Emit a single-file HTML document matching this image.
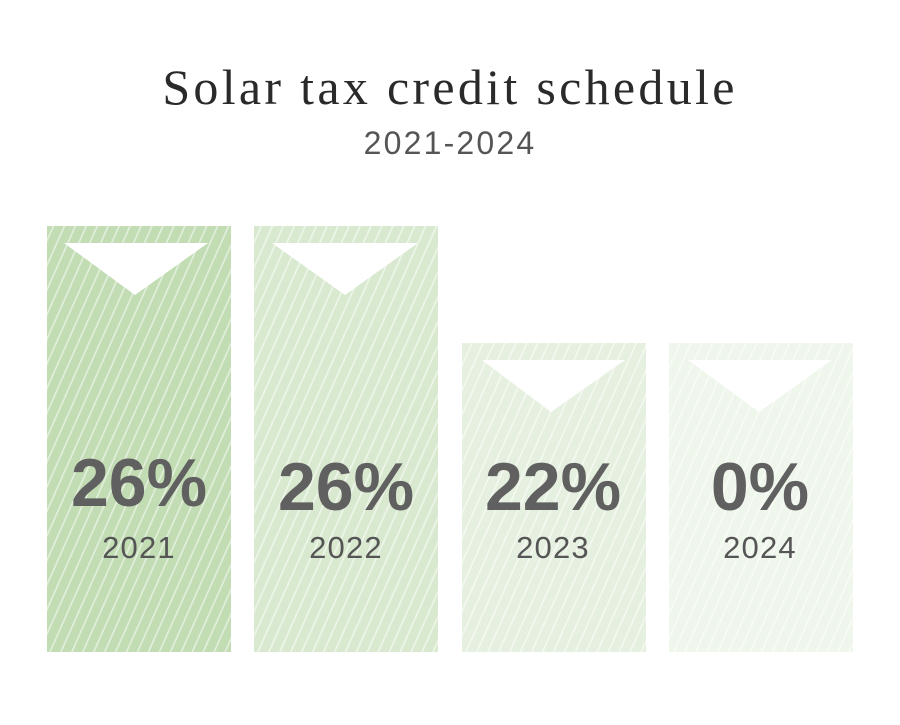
<!DOCTYPE html>
<html><head><style>
body{margin:0;background:#fff;width:900px;height:720px;overflow:hidden}
</style></head><body>
<svg width="900" height="720" xmlns="http://www.w3.org/2000/svg">
<defs>
<pattern id="h" width="10" height="10" patternUnits="userSpaceOnUse" patternTransform="rotate(24)">
<rect x="0" y="0" width="1.6" height="10" fill="#fff" fill-opacity="0.55"/>
</pattern>
</defs>
<text x="450" y="104" text-anchor="middle" font-family="'Liberation Serif',serif" font-size="50" fill="#2a2a2a" letter-spacing="3.3">Solar tax credit schedule</text>
<text x="450" y="154" text-anchor="middle" font-family="'Liberation Sans',sans-serif" font-size="32" fill="#555" letter-spacing="2.2">2021-2024</text>
<g font-family="'Liberation Sans',sans-serif" text-anchor="middle">
<rect x="47" y="226" width="184" height="426" fill="#c2dcb3"/><rect x="47" y="226" width="184" height="426" fill="url(#h)"/>
<polygon points="64,243 208,243 135,295" fill="#fff"/>
<rect x="254" y="226" width="184" height="426" fill="#d9e9d0"/><rect x="254" y="226" width="184" height="426" fill="url(#h)"/>
<polygon points="272,243 418,243 345,295" fill="#fff"/>
<rect x="462" y="343" width="184" height="309" fill="#e6f0e0"/><rect x="462" y="343" width="184" height="309" fill="url(#h)"/>
<polygon points="482,360 625,360 551,412" fill="#fff"/>
<rect x="669" y="343" width="184" height="309" fill="#eff6eb"/><rect x="669" y="343" width="184" height="309" fill="url(#h)"/>
<polygon points="688,360 832,360 759,412" fill="#fff"/>
<g font-size="68" font-weight="bold" fill="#606060">
<text x="139" y="506">26%</text><text x="346" y="510">26%</text><text x="553" y="510">22%</text><text x="760" y="510">0%</text>
</g>
<g font-size="31" fill="#555" letter-spacing="1.2">
<text x="139" y="558">2021</text><text x="346" y="558">2022</text><text x="553" y="558">2023</text><text x="760" y="558">2024</text>
</g>
</g>
</svg>
</body></html>
